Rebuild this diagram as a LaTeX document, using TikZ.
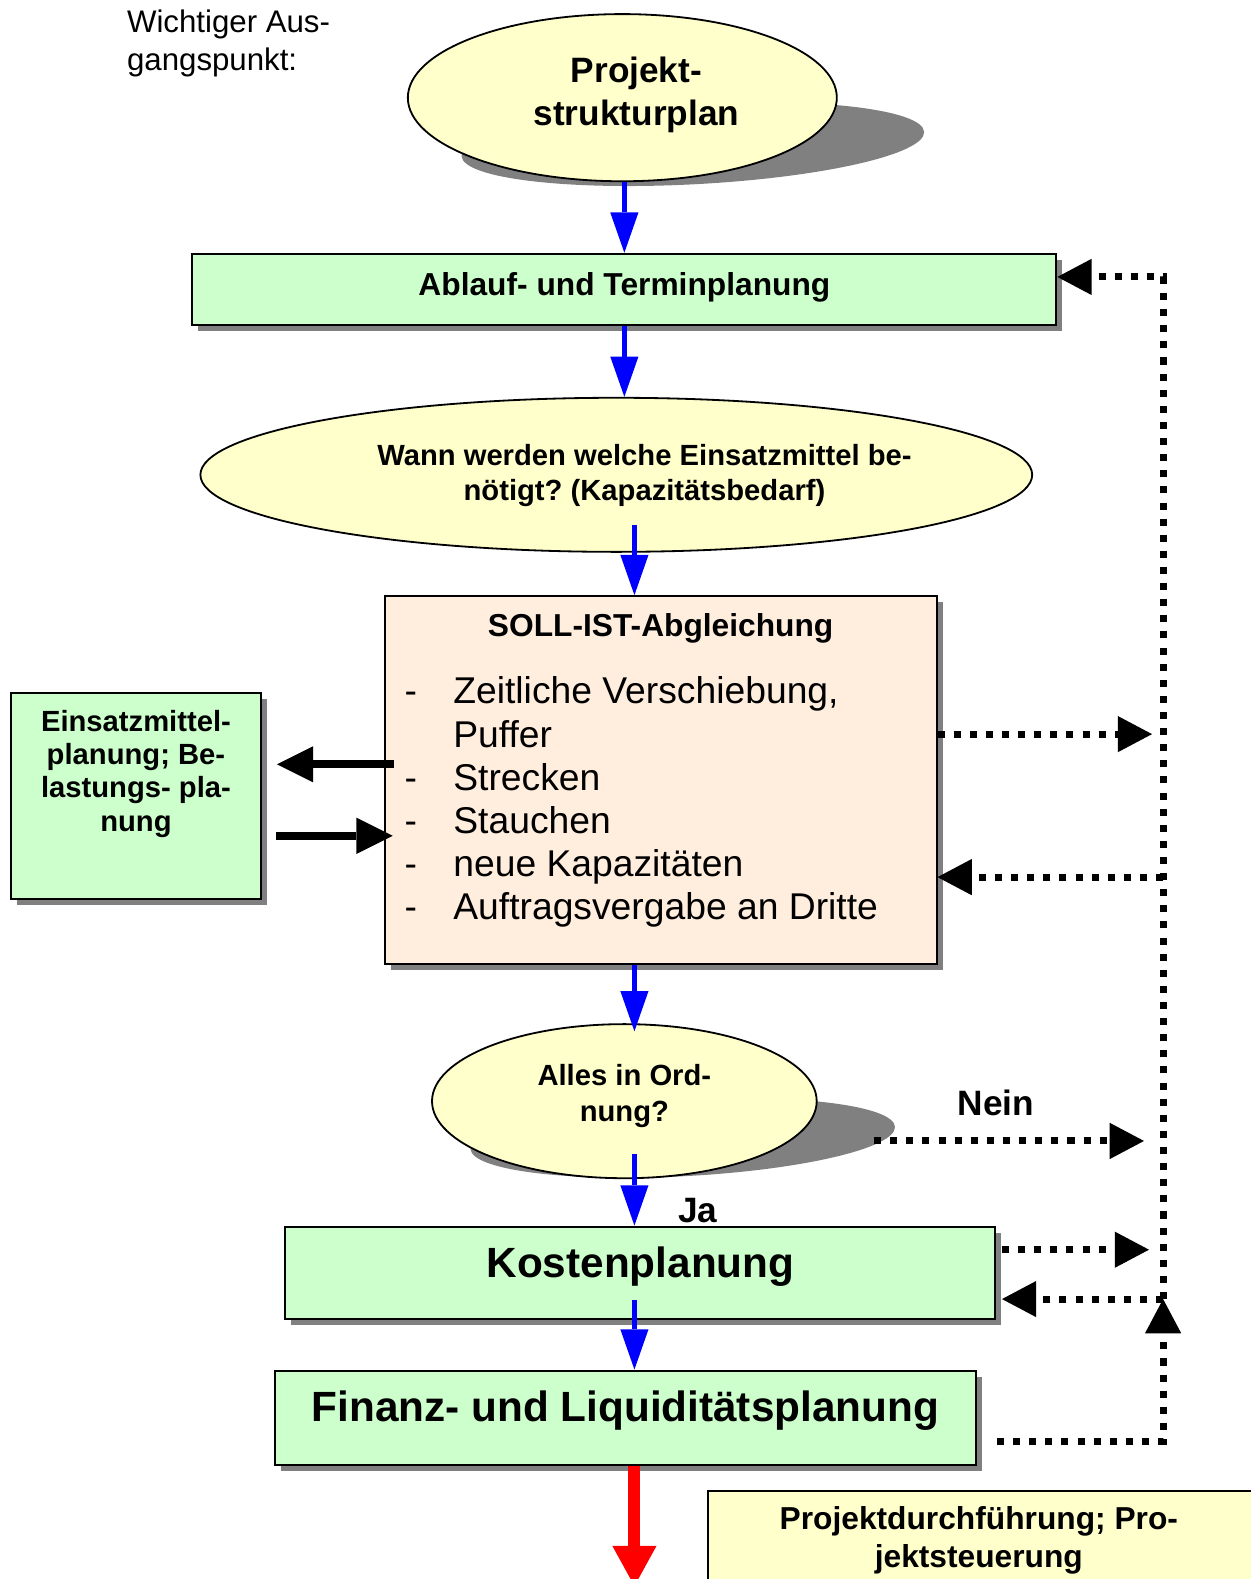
\documentclass[tikz,border=0pt]{standalone}
\usepackage{fontspec}
\setmainfont{Liberation Sans}
\usetikzlibrary{arrows.meta,shapes.geometric,calc,shadows}
\frenchspacing

\definecolor{boxgreen}{HTML}{CCFFCC}
\definecolor{ovalyellow}{HTML}{FFFFCC}
\definecolor{peach}{HTML}{FFEEDD}
\definecolor{shadowgray}{HTML}{808080}

\newcommand\fsz[2]{\fontsize{#1}{#2}\selectfont}

\tikzset{
  box/.style={rectangle, draw=black, line width=2pt, inner sep=0pt},
  boxshadow/.style={general shadow={fill=shadowgray, shadow xshift=6pt, shadow yshift=-6pt}},
  oval/.style={ellipse, draw=black, line width=1.8pt, fill=ovalyellow, inner sep=0pt},
  lbl/.style={inner sep=0pt, anchor=base},
  flow/.style={draw=blue, line width=5pt,
    -{Triangle[length=40pt,width=28pt,line width=0pt]}},
  final/.style={draw=red, line width=12pt,
    -{Triangle[length=40pt,width=44pt,line width=0pt]}},
  heavy/.style={draw=black, line width=8pt,
    -{Triangle[length=36pt,width=36pt,line width=0pt]}},
  feedback/.style={draw=black, line width=7pt, dash pattern=on 7pt off 9pt,
    -{Triangle[length=34pt,width=36pt,line width=0pt]}},
}

\begin{document}
\begin{tikzpicture}[x=1pt,y=-1pt]
\useasboundingbox (0,0) rectangle (1242,1568);

% cast shadows of the two rounded shapes
\fill[shadowgray, rotate around={3:(688,143)}] (688,143) ellipse [x radius=230, y radius=40];
\fill[shadowgray, rotate around={3:(678,1130)}] (678,1130) ellipse [x radius=211, y radius=38];

% shapes
\node[oval, minimum width=426pt, minimum height=166pt] (psp) at (618,97) {};
\node[box, boxshadow, fill=boxgreen, minimum width=858pt, minimum height=71pt] (abl) at (620,287.5) {};
\node[oval, minimum width=826pt, minimum height=153pt] (bed) at (612,471.5) {};
\node[box, boxshadow, fill=peach, minimum width=548pt, minimum height=365pt] (soll) at (656,774.5) {};
\node[box, boxshadow, fill=boxgreen, minimum width=248pt, minimum height=205pt] (emp) at (135,790.5) {};
\node[oval, minimum width=382pt, minimum height=153pt] (ok) at (620,1093.5) {};
\node[box, boxshadow, fill=boxgreen, minimum width=705pt, minimum height=92pt] (kost) at (635.5,1264) {};
\node[box, boxshadow, fill=boxgreen, minimum width=696pt, minimum height=94pt] (fin) at (621,1408) {};
\node[box, fill=ovalyellow, minimum width=570pt, minimum height=120pt, anchor=north west] (pdf) at (702,1480) {};

% texts
\node[lbl, anchor=base west, font=\fsz{31}{38}] (note1) at (126,32) {Wichtiger Aus-};
\node[lbl, anchor=base west, font=\fsz{31}{38}] (note2) at (126,70) {gangspunkt:};

\node[lbl, font=\fsz{35}{42}\bfseries] (psp1) at (632,81.5) {Projekt-};
\node[lbl, font=\fsz{35}{42}\bfseries] (psp2) at (632,124.5) {strukturplan};

\node[lbl, font=\fsz{31.5}{38}\bfseries] (abl1) at (620,293) {Ablauf- und Terminplanung};

\node[lbl, font=\fsz{29}{35}\bfseries] (bed1) at (640,462.4) {Wann werden welche Einsatzmittel be-};
\node[lbl, font=\fsz{29}{35}\bfseries] (bed2) at (640,497.4) {nötigt? (Kapazitätsbedarf)};

\node[lbl, font=\fsz{31.5}{38}\bfseries] (soll1) at (656,632) {SOLL-IST-Abgleichung};
\foreach \n/\yy/\dash/\item in {1/699/-/{Zeitliche Verschiebung,},
                                2/741.8//{Puffer},
                                3/784.6/-/{Strecken},
                                4/827.4/-/{Stauchen},
                                5/870.2/-/{neue Kapazitäten},
                                6/913/-/{Auftragsvergabe an Dritte}}{
  \node[lbl, font=\fsz{37}{43}] (dash\n) at (408,\yy) {\dash};
  \node[lbl, anchor=base west, font=\fsz{37}{43}] (item\n) at (450,\yy) {\item};
}

\node[lbl, font=\fsz{29}{33}\bfseries] (emp1) at (135,726.4) {Einsatzmittel-};
\node[lbl, font=\fsz{29}{33}\bfseries] (emp2) at (135,759.4) {planung; Be-};
\node[lbl, font=\fsz{29}{33}\bfseries] (emp3) at (135,792.4) {lastungs- pla-};
\node[lbl, font=\fsz{29}{33}\bfseries] (emp4) at (135,825.4) {nung};

\node[lbl, font=\fsz{29}{35}\bfseries] (ok1) at (620,1078.4) {Alles in Ord-};
\node[lbl, font=\fsz{29}{35}\bfseries] (ok2) at (620,1113.4) {nung?};

\node[lbl, font=\fsz{35}{42}\bfseries] (nein) at (989,1107.5) {Nein};
\node[lbl, font=\fsz{35}{42}\bfseries] (ja) at (693,1213.5) {Ja};

\node[lbl, font=\fsz{42}{50}\bfseries] (kost1) at (636,1269) {Kostenplanung};
\node[lbl, font=\fsz{42}{50}\bfseries] (fin1) at (621,1412) {Finanz- und Liquiditätsplanung};

\node[lbl, font=\fsz{31.5}{38}\bfseries] (pdf1) at (972,1519) {Projektdurchführung; Pro-};
\node[lbl, font=\fsz{31.5}{38}\bfseries] (pdf2) at (972,1557) {jektsteuerung};

% helper coordinates
\coordinate (spine) at (630,0);
\coordinate (exit) at (630,1575);
\coordinate (rowOut) at (0,759);
\coordinate (rowIn) at (0,830);
\coordinate (trunkTop) at (1155,275);
\coordinate (trunkJoin) at (1155,1290);
\coordinate (trunkFoot) at (1155,1431);
\coordinate (sollOut) at (1144,729);
\coordinate (sollBack) at (1155,871);
\coordinate (neinStart) at (868,1133);
\coordinate (neinEnd) at (1136,1133);
\coordinate (kostOut) at (1141,1241);

% main flow
\draw[flow] (abl.north |- psp.south) -- (abl.north);
\draw[flow] (abl.south) -- (abl.south |- bed.north);
\draw[flow] ($(spine |- bed.south)+(0,-28)$) -- (spine |- soll.north);
\draw[flow] (spine |- soll.south) -- ($(spine |- ok.north)+(0,8)$);
\draw[flow] ($(spine |- ok.south)+(0,-25)$) -- (spine |- kost.north);
\draw[flow] ($(spine |- kost.south)+(0,-20)$) -- (spine |- fin.north);
\draw[final] (spine |- fin.south) -- (exit);

% exchange with resource planning
\draw[heavy] ($(soll.west |- rowOut)+(10,0)$) -- ($(emp.east |- rowOut)+(15,0)$);
\draw[heavy] ($(emp.east |- rowIn)+(14,0)$) -- ($(soll.west |- rowIn)+(9,0)$);

% feedback loops
\draw[feedback] (trunkJoin) -- (trunkTop) -- (abl.east |- trunkTop);
\draw[feedback] (soll.east |- sollOut) -- (sollOut);
\draw[feedback] (sollBack) -- (soll.east |- sollBack);
\draw[feedback] (neinStart) -- (neinEnd);
\draw[feedback] ($(kost.east |- kostOut)+(6,0)$) -- (kostOut);
\draw[feedback, shorten >=6pt] (trunkJoin) -- (kost.east |- trunkJoin);
\draw[feedback] ($(fin.east |- trunkFoot)+(20,0)$) -- (trunkFoot) -- (trunkJoin);
\end{tikzpicture}
\end{document}
